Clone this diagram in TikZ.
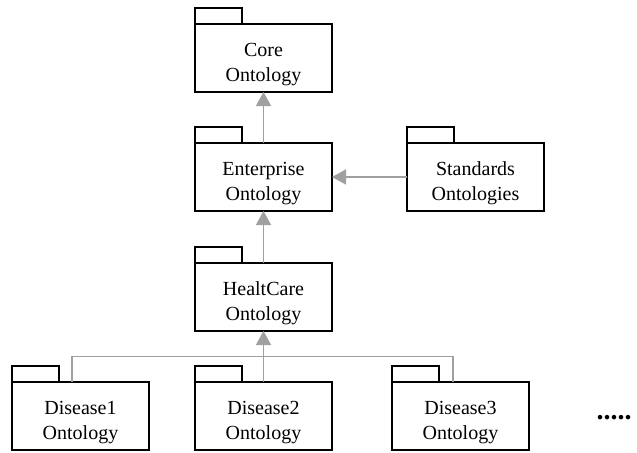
\documentclass[tikz,border=0pt]{standalone}
\usepackage{fontspec}
\setmainfont{Liberation Serif}
\usetikzlibrary{positioning}
\usetikzlibrary{arrows.meta}
\usetikzlibrary{calc}

\definecolor{linkgray}{RGB}{160,160,160}

% two-line package caption, sitting a little low in the box
\newcommand{\pkgtext}[2]{\raisebox{-5.5pt}[0pt][0pt]{\begin{tabular}{@{}c@{}}#1\\#2\end{tabular}}}

\tikzset{
  pkg/.style={draw, line width=1pt, minimum width=68.5pt, minimum height=34pt,
    inner sep=0pt, outer sep=0pt, font=\fontsize{10}{12.5}\selectfont},
  tab/.style={draw, line width=1pt},
  link/.style={draw=linkgray, line width=0.75pt},
  inherit/.style={link, -{Triangle[width=7.5pt,length=7pt]}, linkgray},
}

\begin{document}
\begin{tikzpicture}
\useasboundingbox (0,0) rectangle (318.5pt,-226pt);

% core
\node[pkg] (core) at (131.75pt,-29pt) {\pkgtext{Core}{Ontology}}; %

% enterprise + standards
\node[pkg, below=25.5pt of core] (ent) {\pkgtext{Enterprise}{Ontology}}; %
\node[pkg, right=37.5pt of ent] (std) {\pkgtext{Standards}{Ontologies}}; %

% healtcare
\node[pkg, below=26pt of ent] (hc) {\pkgtext{HealtCare}{Ontology}}; %

% diseases
\node[pkg, below=25.5pt of hc] (d2) {\pkgtext{Disease2}{Ontology}}; %
\node[pkg, left=23pt of d2] (d1) {\pkgtext{Disease1}{Ontology}}; %
\node[pkg, right=30pt of d2] (d3) {\pkgtext{Disease3}{Ontology}}; %
\node[font=\fontsize{14}{16}\selectfont\bfseries, inner sep=0pt] (more) at ($(d3.east)+(42.5pt,-1pt)$) {.....};

% tabs
\foreach \n in {core,ent,std,hc,d1,d2,d3}
  \draw[tab] (\n.north west) rectangle ++(23.25pt,8.25pt);

% links
\draw[inherit] (ent.north) -- (core.south);
\draw[inherit] (std.west) -- (ent.east);
\draw[inherit] (hc.north) -- (ent.south);
\draw[inherit] (d2.north) -- (hc.south);
\coordinate (bus) at ($(hc.south)!0.5!(d2.north)$);
\draw[link] ([xshift=-4.25pt]d1.north) |- (bus) -| ([xshift=-3.75pt]d3.north);
\end{tikzpicture}
\end{document}
